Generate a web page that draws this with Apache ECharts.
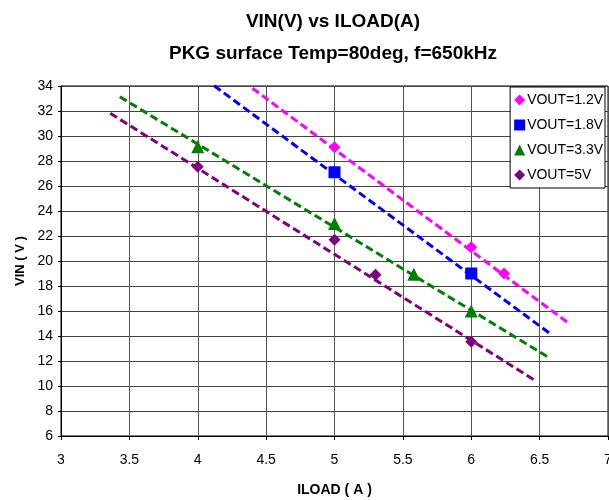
<!DOCTYPE html>
<html>
<head>
<meta charset="utf-8">
<script src="https://cdn.jsdelivr.net/npm/echarts@6/dist/echarts.min.js"></script>
<style>html,body{margin:0;padding:0;background:#fff}#c{width:609px;height:500px}</style>
</head>
<body>
<div id="c"></div>
<script>
// Data
var seriesNames = ['VOUT=1.2V', 'VOUT=1.8V', 'VOUT=3.3V', 'VOUT=5V'];
var v12_x = [5, 6, 6.24];
var v12_y = [29.1, 21.1, 19.0];
var v18_x = [5, 6];
var v18_y = [27.1, 19.0];
var v33_x = [4, 5, 5.58, 6];
var v33_y = [29.15, 23.0, 18.95, 16.0];
var v5_x = [4, 5, 5.3, 6];
var v5_y = [27.55, 21.7, 18.9, 13.55];
// trend line end points (x, y)
var v12_trend_x = [4.40, 6.70];
var v12_trend_y = [33.82, 15.12];
var v18_trend_x = [4.12, 6.59];
var v18_trend_y = [34.02, 14.08];
var v33_trend_x = [3.43, 6.57];
var v33_trend_y = [33.14, 12.26];
var v5_trend_x = [3.36, 6.47];
var v5_trend_y = [31.82, 10.42];
var xTicks = [3, 3.5, 4, 4.5, 5, 5.5, 6, 6.5, 7];
var yTicks = [6, 8, 10, 12, 14, 16, 18, 20, 22, 24, 26, 28, 30, 32, 34];

function zip(xs, ys) { return xs.map(function (x, i) { return [x, ys[i]]; }); }

var colors = ['#FF00FF', '#0000FF', '#008000', '#800080'];
var symbols = ['diamond', 'rect', 'triangle', 'diamond'];
var symSizes = [12, 12, 13, 12];
var pts = [zip(v12_x, v12_y), zip(v18_x, v18_y), zip(v33_x, v33_y), zip(v5_x, v5_y)];
var trends = [zip(v12_trend_x, v12_trend_y), zip(v18_trend_x, v18_trend_y), zip(v33_trend_x, v33_trend_y), zip(v5_trend_x, v5_trend_y)];

var series = [];
trends.forEach(function (d, i) {
  series.push({
    type: 'line', name: 'trend' + i, data: d, showSymbol: false, symbol: 'none',
    lineStyle: { color: colors[i], width: 3, type: [8, 4] }, silent: true, z: 2, clip: true
  });
});
pts.forEach(function (d, i) {
  series.push({
    type: 'scatter', name: seriesNames[i], data: d, symbol: symbols[i], symbolSize: symSizes[i],
    itemStyle: { color: colors[i], opacity: 1 }, z: 5
  });
});

var font = 'Liberation Sans, Arial, sans-serif';
var chart = echarts.init(document.getElementById('c'), null, { renderer: 'canvas' });
chart.setOption({
  animation: false,
  backgroundColor: '#fff',
  title: [
    { text: 'VIN(V) vs ILOAD(A)', left: 328, top: 7, textAlign: 'center',
      textStyle: { fontFamily: font, fontSize: 19, fontWeight: 'bold', color: '#000' } },
    { text: 'PKG surface Temp=80deg, f=650kHz', left: 328, top: 39, textAlign: 'center',
      textStyle: { fontFamily: font, fontSize: 19, fontWeight: 'bold', color: '#000' } }
  ],
  legend: {
    data: seriesNames.map(function (n, i) { return { name: n, icon: symbols[i] }; }),
    orient: 'vertical', right: 4, top: 87,
    backgroundColor: '#fff', borderColor: '#000', borderWidth: 1,
    padding: [6, 2, 6, 4], itemGap: 11, itemWidth: 11, itemHeight: 11,
    textStyle: { fontFamily: font, fontSize: 14, color: '#000', padding: [0, 0, 0, -3] }
  },
  grid: { left: 61, right: 1, top: 86, bottom: 64, show: true, borderColor: '#000', borderWidth: 1,
          outerBoundsMode: 'none', containLabel: false },
  xAxis: {
    type: 'value', min: xTicks[0], max: xTicks[xTicks.length - 1], interval: 0.5,
    name: 'ILOAD ( A )', nameLocation: 'middle', nameGap: 47,
    nameTextStyle: { fontFamily: font, fontSize: 14, fontWeight: 'bold', color: '#000' },
    axisLine: { lineStyle: { color: '#000', width: 1 } },
    axisTick: { show: true, length: 4, lineStyle: { color: '#000' } },
    axisLabel: { fontFamily: font, fontSize: 14, color: '#000', margin: 17 },
    splitLine: { show: true, lineStyle: { color: '#555', width: 1 } }
  },
  yAxis: {
    type: 'value', min: yTicks[0], max: yTicks[yTicks.length - 1], interval: 2,
    name: 'VIN ( V )', nameLocation: 'middle', nameGap: 31, nameRotate: 90,
    nameTextStyle: { fontFamily: font, fontSize: 13, fontWeight: 'bold', color: '#000' },
    axisLine: { show: true, lineStyle: { color: '#000', width: 1 } },
    axisTick: { show: true, length: 3, lineStyle: { color: '#000' } },
    axisLabel: { fontFamily: font, fontSize: 14, color: '#000', margin: 8 },
    splitLine: { show: true, lineStyle: { color: '#444', width: 1 } }
  },
  series: series
});
</script>
</body>
</html>
